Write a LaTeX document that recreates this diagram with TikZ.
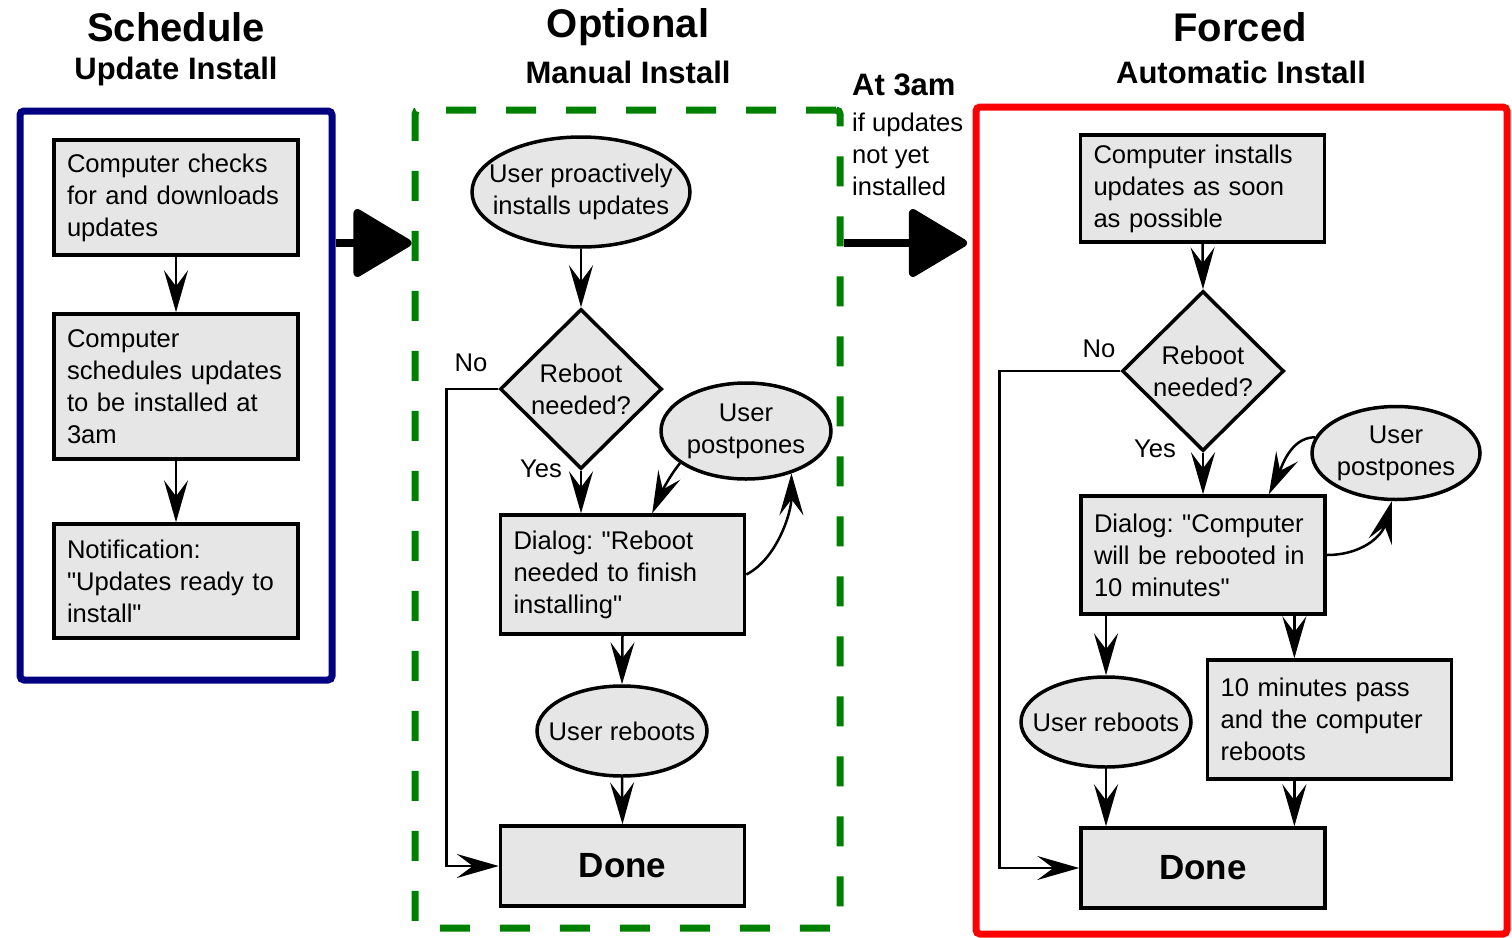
\documentclass[tikz,border=0pt]{standalone}
\usepackage{fontspec}
\setmainfont{Liberation Sans}[Ligatures=TeXOff]
\usetikzlibrary{shapes.geometric,arrows.meta,calc}
\definecolor{boxgray}{RGB}{230,230,230}
\definecolor{pnavy}{RGB}{0,0,128}
\definecolor{pgreen}{RGB}{0,128,0}
\definecolor{pred}{RGB}{255,0,0}
\frenchspacing
\begin{document}
\begin{tikzpicture}[x=1pt,y=-1pt,
 body/.style={font=\fontsize{25.6}{32}\selectfont},
 box/.style={draw, line width=3.5pt, fill=boxgray, rectangle, body, align=left, text width=218pt, inner xsep=13pt, inner ysep=0pt, minimum width=244pt},
 donebox/.style={draw, line width=3.5pt, fill=boxgray, rectangle, font=\bfseries\fontsize{35}{40}\selectfont, minimum width=244pt, minimum height=80pt, inner sep=0pt},
 oval/.style={draw, line width=3.5pt, fill=boxgray, ellipse, inner sep=0pt},
 dia/.style={draw, line width=3.5pt, fill=boxgray, diamond, inner sep=0pt, minimum width=162pt, minimum height=160pt},
 inlabel/.style={body, align=center, inner sep=0pt},
 panel/.style={rectangle, line width=7pt, rounded corners=4pt, inner sep=0pt},
 conn/.style={line width=2.5pt, -{Stealth[length=42pt,width=24pt,inset=16pt]}},
 big/.style={line width=8pt, -{Triangle[length=62pt,width=72pt,round]}},
 title/.style={font=\bfseries\fontsize{40}{48}\selectfont, anchor=base, inner sep=0pt},
 sub/.style={font=\bfseries\fontsize{31}{36}\selectfont, anchor=base, inner sep=0pt},
 lab/.style={body, anchor=base, inner sep=0pt},
]
\useasboundingbox (0,0) rectangle (1512,937);

% panels
\node[panel, draw=pnavy, minimum width=312pt, minimum height=569pt] (p1) at (176,395.5) {};
\node[panel, draw=pgreen, dash pattern=on 30pt off 30pt, minimum width=425pt, minimum height=818pt] (p2) at (627.5,519) {};
\node[panel, draw=pred, minimum width=531pt, minimum height=827pt] (p3) at (1241.5,520.5) {};

% titles
\node[title] (t1) at (176,41) {Schedule};
\node[sub] (s1) at (176,79) {Update Install};
\node[title] (t2) at (628,37) {Optional};
\node[sub] (s2) at (628,83) {Manual Install};
\node[title] (t3) at (1240,41) {Forced};
\node[sub] (s3) at (1241,83) {Automatic Install};

% at 3am text
\node[sub, anchor=base west] (at3) at (852,95) {At 3am};
\node[lab, anchor=base west] (w1) at (852,131) {if updates};
\node[lab, anchor=base west] (w2) at (852,163) {not yet};
\node[lab, anchor=base west] (w3) at (852,195) {installed};

% big arrows
\coordinate (ba) at (0,243);
\coordinate (bend2) at (967,243);
\draw[big] (p1.east |- ba) -- (p2.west |- ba);
\draw[big] (p2.east |- ba) -- (bend2);

% panel 1
\node[box, minimum height=115pt] (a) at (176,197.5) {Computer checks\\for and downloads\\updates};
\node[box, minimum height=145pt] (b) at (176,386.5) {Computer\\schedules updates\\to be installed at\\3am};
\node[box, minimum height=114pt] (c) at (176,581) {Notification:\\"Updates ready to\\install"};
\draw[conn] (a.south) -- (b.north);
\draw[conn] (b.south) -- (c.north);

% panel 2
\node[oval, minimum width=218pt, minimum height=110pt, label={[inlabel]center:{User proactively\\installs updates}}] (e1) at (581,192) {};
\node[dia, label={[inlabel]center:{Reboot\\needed?}}] (d1) at (581,389) {};
\node[box, minimum height=119pt] (dlg1) at (622.5,574.5) {Dialog: "Reboot\\needed to finish\\installing"};
\node[oval, minimum width=170pt, minimum height=96pt, label={[inlabel]center:{User\\postpones}}] (pp1) at (746,431) {};
\node[oval, minimum width=170pt, minimum height=90pt, label={[inlabel]center:{User reboots}}] (ur1) at (622,731) {};
\node[donebox] (done1) at (622.5,866) {Done};
\node[lab] (no1) at (471,371) {No};
\node[lab] (yes1) at (541,477) {Yes};

\draw[conn] (e1.south) -- (d1.north);
\draw[conn] (d1.south) -- (d1.south |- dlg1.north);
\draw[conn] (d1.west) -- ++(-52,0) |- (done1.west);
\coordinate (dlg1top) at ($(dlg1.north west)!0.62!(dlg1.north east)$);
\draw[conn] (pp1.206) .. controls +(-12,15) and +(8,-18) .. (dlg1top);
\draw[conn] (dlg1.east) .. controls +(30,-15) and +(0,40) .. (pp1.317);
\draw[conn] (dlg1.south) -- (ur1.north);
\draw[conn] (ur1.south) -- (done1.north);

% panel 3
\node[box, minimum height=107pt] (b1) at (1202.5,188.5) {Computer installs\\updates as soon\\as possible};
\node[dia, label={[inlabel]center:{Reboot\\needed?}}] (d2) at (1203,371) {};
\node[box, minimum height=118pt] (dlg2) at (1203,555) {Dialog: "Computer\\will be rebooted in\\10 minutes"};
\node[oval, minimum width=168pt, minimum height=93pt, label={[inlabel]center:{User\\postpones}}] (pp2) at (1396,453) {};
\node[oval, minimum width=170pt, minimum height=90pt, label={[inlabel]center:{User reboots}}] (ur2) at (1106,722) {};
\node[box, minimum height=119pt] (tm) at (1329.5,719.5) {10 minutes pass\\and the computer\\reboots};
\node[donebox] (done2) at (1203,868) {Done};
\node[lab] (no2) at (1099,357) {No};
\node[lab] (yes2) at (1155,457) {Yes};

\draw[conn] (b1.south) -- (d2.north);
\draw[conn] (d2.south) -- (dlg2.north);
\draw[conn] (d2.west) -- ++(-121,0) |- (done2.west);
\coordinate (dlg2top) at ($(dlg2.north west)!0.766!(dlg2.north east)$);
\draw[conn] (pp2.169) .. controls +(-25,0) and +(12,-25) .. (dlg2top);
\draw[conn] (dlg2.east) .. controls +(35,0) and +(-10,35) .. (pp2.265);
\draw[conn] (ur2.north |- dlg2.south) -- (ur2.north);
\coordinate (tmtop) at ($(tm.north west)!0.358!(tm.north east)$);
\coordinate (tmbot) at ($(tm.south west)!0.358!(tm.south east)$);
\draw[conn] (dlg2.south -| tmtop) -- (tmtop);
\draw[conn] (ur2.south) -- (ur2.south |- done2.north);
\draw[conn] (tmbot) -- (tmbot |- done2.north);
\end{tikzpicture}
\end{document}
